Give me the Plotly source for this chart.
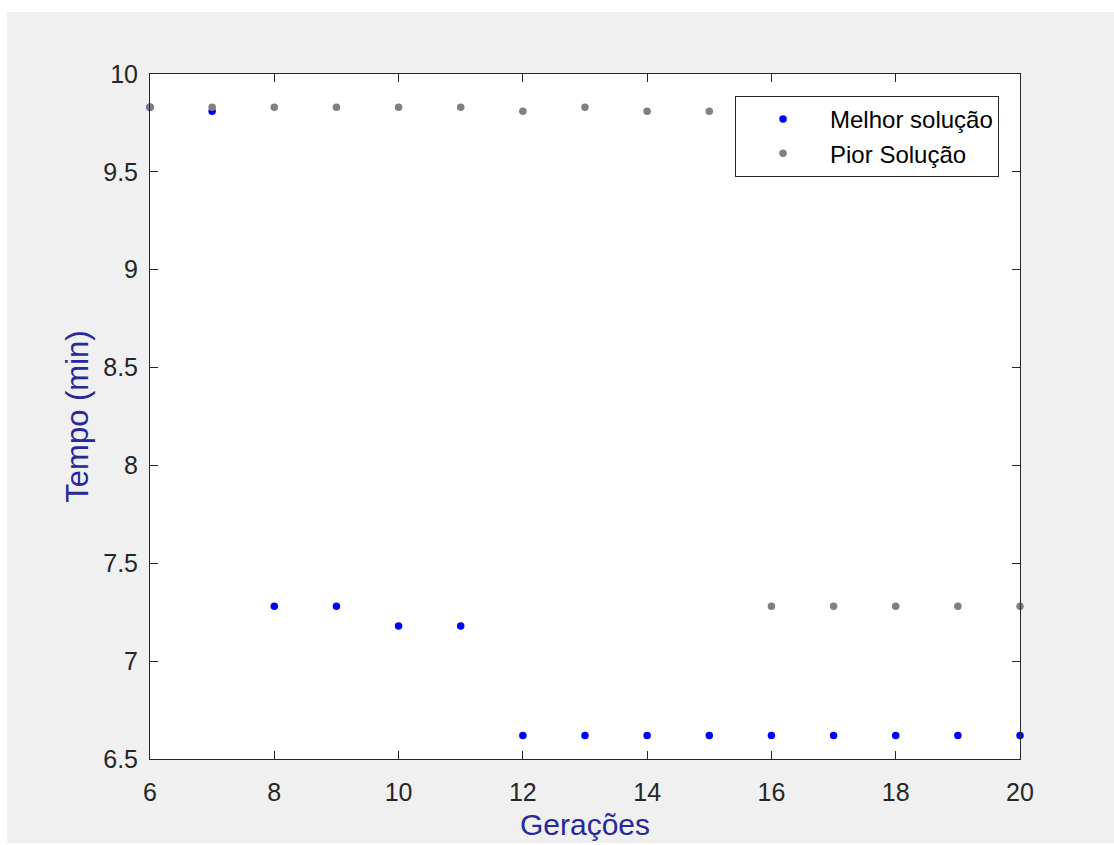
import plotly.graph_objects as go

# Generations shown on the x axis
geracoes = [6, 7, 8, 9, 10, 11, 12, 13, 14, 15, 16, 17, 18, 19, 20]

# Time (min) of the best and worst individual in each generation
melhor_solucao = [9.83, 9.81, 7.28, 7.28, 7.18, 7.18, 6.62, 6.62, 6.62, 6.62,
                  6.62, 6.62, 6.62, 6.62, 6.62]
pior_solucao = [9.83, 9.83, 9.83, 9.83, 9.83, 9.83, 9.81, 9.83, 9.81, 9.81,
                7.28, 7.28, 7.28, 7.28, 7.28]

x_ticks = [6, 8, 10, 12, 14, 16, 18, 20]
y_ticks = [6.5, 7, 7.5, 8, 8.5, 9, 9.5, 10]

FONT = "Liberation Sans, Arial, Helvetica, sans-serif"
AX_COLOR = "#262626"
LABEL_COLOR = "#28289a"

fig = go.Figure()
fig.add_trace(go.Scatter(
    x=geracoes, y=melhor_solucao, mode="markers", name="Melhor solução",
    marker=dict(color="#0000ff", size=7.5), cliponaxis=False,
))
fig.add_trace(go.Scatter(
    x=geracoes, y=pior_solucao, mode="markers", name="Pior Solução",
    marker=dict(color="#808080", size=7.5), cliponaxis=False,
))

axis_common = dict(
    showline=True, linecolor=AX_COLOR, linewidth=1, mirror="ticks",
    ticks="inside", ticklen=8, tickwidth=1, tickcolor=AX_COLOR,
    showgrid=False, zeroline=False,
    tickfont=dict(family=FONT, size=25, color=AX_COLOR),
)

fig.update_layout(
    width=1114, height=845,
    margin=dict(l=150, r=94, t=74, b=86),
    paper_bgcolor="white", plot_bgcolor="white",
    font=dict(family=FONT),
    xaxis=dict(
        range=[6, 20], tickvals=x_ticks, ticklabelstandoff=11, automargin=False,
        title=dict(text="Gerações", font=dict(family=FONT, size=30, color=LABEL_COLOR), standoff=8),
        **axis_common,
    ),
    yaxis=dict(
        range=[6.5, 10], tickvals=y_ticks, ticklabelstandoff=6,
        title=dict(text="Tempo (min)", font=dict(family=FONT, size=31, color=LABEL_COLOR), standoff=5),
        **axis_common,
    ),
    legend=dict(
        x=0.9759, y=0.968, xanchor="right", yanchor="top",
        bgcolor="white", bordercolor=AX_COLOR, borderwidth=1,
        font=dict(family=FONT, size=24, color="#000000"),
        itemwidth=84,
    ),
    shapes=[
        # light grey figure window behind the axes
        dict(type="rect", xref="paper", yref="paper", layer="below",
             x0=-0.1644, x1=1.2, y0=-0.1226, y1=1.0905,
             fillcolor="#f0f0f0", line=dict(width=0)),
        # white axes background
        dict(type="rect", xref="paper", yref="paper", layer="below",
             x0=0, x1=1, y0=0, y1=1,
             fillcolor="white", line=dict(width=0)),
    ],
)

fig.write_html("out.html")
